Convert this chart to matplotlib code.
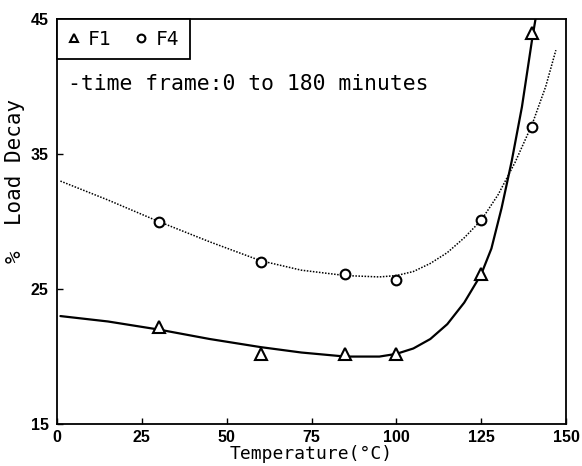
import matplotlib.pyplot as plt

# measured points
temp = [30, 60, 85, 100, 125, 140]
f1 = [22.2, 20.2, 20.2, 20.2, 26.1, 44.0]
f4 = [30.0, 27.0, 26.1, 25.7, 30.1, 37.0]

# fitted curves
f1_curve_x = [1, 15, 30, 45, 60, 72, 85, 95, 100, 105, 110, 115, 120, 125, 128, 131, 134, 137, 140, 141]
f1_curve_y = [23.0, 22.6, 22.0, 21.3, 20.7, 20.3, 20.0, 20.0, 20.2, 20.6, 21.3, 22.4, 24.0, 26.1, 28.0, 31.0, 34.5, 38.5, 43.5, 45.0]
f4_curve_x = [1, 15, 30, 45, 60, 72, 85, 95, 100, 105, 110, 115, 120, 125, 130, 135, 140, 144, 147]
f4_curve_y = [33.0, 31.6, 30.0, 28.5, 27.1, 26.4, 26.0, 25.9, 26.0, 26.3, 26.9, 27.7, 28.8, 30.1, 32.0, 34.4, 37.2, 40.0, 42.7]

xticks = [0, 25, 50, 75, 100, 125, 150]
yticks = [15, 25, 35, 45]

mono = ['DejaVu Sans Mono']
tickfont = ['DejaVu Sans Condensed', 'Liberation Sans']

fig = plt.figure(figsize=(5.82, 4.66), dpi=100)
ax = fig.add_axes([0.098, 0.090, 0.8746, 0.869])

ax.plot(f1_curve_x, f1_curve_y, color='black', lw=1.6, solid_capstyle='round')
ax.plot(f4_curve_x, f4_curve_y, color='black', lw=1.1, linestyle=(0, (1, 1)))
ax.plot(temp, f1, linestyle='none', marker='^', ms=8, mfc='white', mec='black', mew=1.5, label='F1')
ax.plot(temp, f4, linestyle='none', marker='o', ms=7, mfc='white', mec='black', mew=1.5, label='F4')

ax.set_xlim(0, 150)
ax.set_ylim(15, 45)
ax.set_xticks(xticks)
ax.set_yticks(yticks)
ax.tick_params(direction='in', length=4, width=1, top=False, right=False)
ax.tick_params(axis='x', pad=4)
ax.tick_params(axis='y', pad=6)
for lab in ax.get_xticklabels() + ax.get_yticklabels():
    lab.set_family(tickfont)
    lab.set_fontweight('bold')
    lab.set_fontsize(11.5)
for s in ax.spines.values():
    s.set_linewidth(1.3)

ax.set_xlabel('Temperature(°C)', fontsize=13, family=mono)
ax.xaxis.set_label_coords(0.5, -0.052)
ax.set_ylabel('%  Load Decay', fontsize=15, family=mono)
ax.yaxis.set_label_coords(-0.062, 0.60)

leg = ax.legend(loc='upper left', ncol=2, frameon=True, fancybox=False,
                prop={'family': mono, 'size': 14},
                edgecolor='black', framealpha=1, borderaxespad=0, handlelength=0.6,
                handletextpad=0.45, columnspacing=1.2, borderpad=0.55, markerscale=0.8)
leg.get_frame().set_linewidth(1.3)

ax.text(3.2, 40.2, '-time frame:0 to 180 minutes', fontsize=15.4, family=mono,
        va='center', ha='left')

fig.savefig('out.png', dpi=100)
